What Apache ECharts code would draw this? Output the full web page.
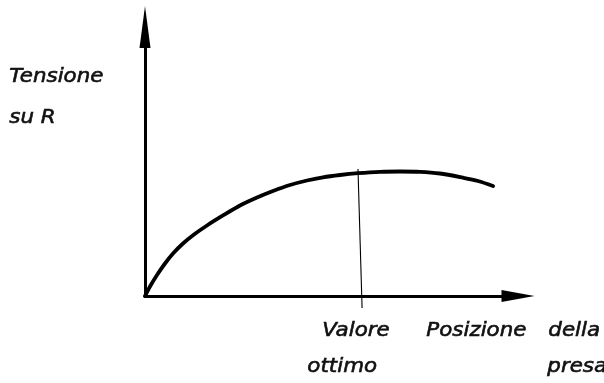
<!DOCTYPE html>
<html>
<head>
<meta charset="utf-8">
<script src="https://cdn.jsdelivr.net/npm/echarts@6/dist/echarts.min.js"></script>
<style>
  html, body { margin: 0; padding: 0; background: #fff; }
  #chart { width: 604px; height: 383px; }
</style>
</head>
<body>
<div id="chart"></div>
<script>
// Tap position (x) against voltage across R (y), arbitrary units
var tapPosition = [0, 1.34, 3.22, 5.36, 7.51, 10.19, 13.14, 16.62, 20.91, 25.47, 30.03, 34.32, 38.87, 43.43, 47.72, 52.28, 57.10, 63.00, 68.36, 73.73, 79.09, 85.25, 89.28, 93.30];
var voltageOnR  = [0, 3.53, 7.81, 12.08, 15.80, 19.52, 22.86, 26.21, 29.93, 33.64, 36.62, 39.03, 41.26, 42.94, 44.13, 44.98, 45.65, 46.17, 46.28, 46.17, 45.54, 43.98, 42.75, 40.89];

// Marker for the optimum tap position (slightly slanted hand-drawn stroke)
var optimumX = [57.1, 58.2];
var optimumY = [47.2, -4.5];

// Axis captions
var yCaption = ['Tensione', 'su R'];
var xCaptionOptimum = ['Valore', 'ottimo'];
var xCaptionAxis = ['Posizione', 'della', 'presa'];

var curve = tapPosition.map(function (x, i) { return [x, voltageOnR[i]]; });
var optimumLine = optimumX.map(function (x, i) { return [x, optimumY[i]]; });

var FONT = 'italic 20px "DejaVu Sans"';
function caption(text, left, top, sx) {
  return {
    type: 'text', left: left, top: top, scaleX: sx || 1.07,
    style: { text: text, font: FONT, fill: '#111', stroke: '#111', lineWidth: 0.6 }
  };
}

var chart = echarts.init(document.getElementById('chart'), null, { renderer: 'canvas' });
chart.setOption({
  animation: false,
  backgroundColor: '#fff',
  grid: { left: 145, right: 86, top: 27, bottom: 87, containLabel: false },
  xAxis: {
    type: 'value', min: 0, max: 100,
    axisLine: {
      show: true, onZero: false,
      lineStyle: { color: '#000', width: 3 },
      symbol: ['none', 'triangle'], symbolSize: [12, 33]
    },
    axisTick: { show: false }, axisLabel: { show: false }, splitLine: { show: false }
  },
  yAxis: {
    type: 'value', min: 0, max: 100,
    axisLine: {
      show: true, onZero: false,
      lineStyle: { color: '#000', width: 3 },
      symbol: ['none', 'triangle'], symbolSize: [11, 42]
    },
    axisTick: { show: false }, axisLabel: { show: false }, splitLine: { show: false }
  },
  series: [
    {
      type: 'line', data: curve, smooth: 0.3, showSymbol: false, clip: false,
      lineStyle: { color: '#000', width: 3.8, cap: 'round', join: 'round' }, z: 3
    },
    {
      type: 'line', data: optimumLine, showSymbol: false, clip: false,
      lineStyle: { color: '#000', width: 1.1 }, z: 2
    }
  ],
  graphic: [
    caption(yCaption[0], 9, 66),
    caption(yCaption[1], 9, 107),
    caption(xCaptionOptimum[0], 322, 320),
    caption(xCaptionOptimum[1], 307, 356),
    caption(xCaptionAxis[0], 426, 320),
    caption(xCaptionAxis[1], 548, 320),
    caption(xCaptionAxis[2], 547, 356)
  ]
});
</script>
</body>
</html>
